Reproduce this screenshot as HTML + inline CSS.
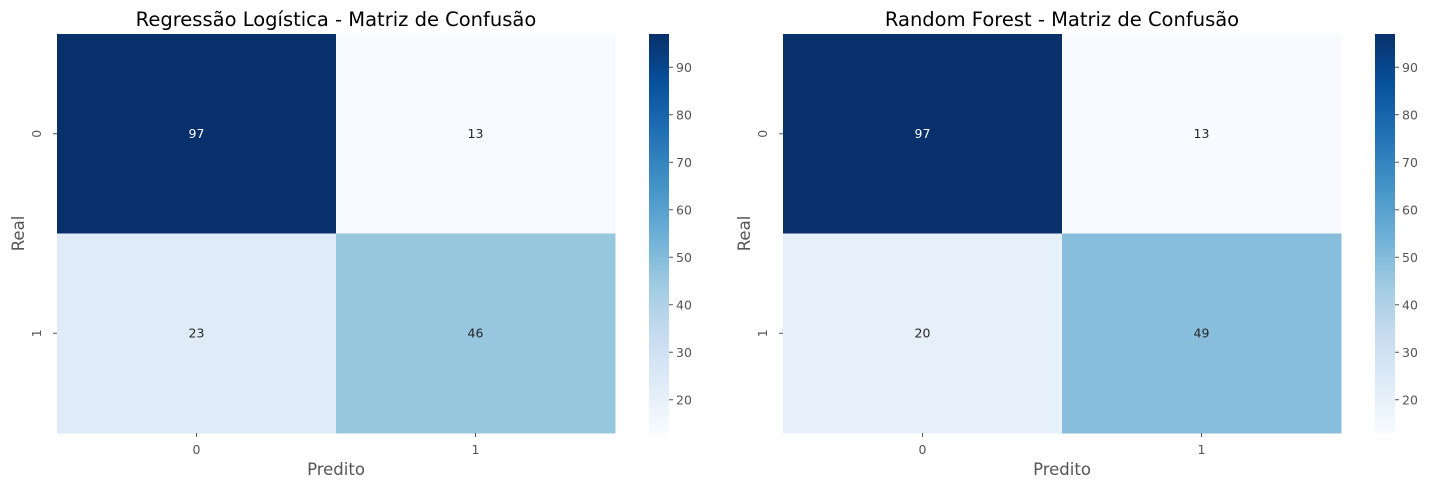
<!DOCTYPE html>
<html><head><meta charset="utf-8"><style>body{margin:0;background:#fff}svg{display:block;font-family:"DejaVu Sans","Liberation Sans",sans-serif}</style></head>
<body>
<svg id="chart" width="1432" height="490" xmlns="http://www.w3.org/2000/svg">
<defs><linearGradient id="blues" x1="0" y1="1" x2="0" y2="0">
<stop offset="0" stop-color="#f7fbff"/><stop offset="0.125" stop-color="#deebf7"/><stop offset="0.25" stop-color="#c6dbef"/><stop offset="0.375" stop-color="#9ecae1"/><stop offset="0.5" stop-color="#6baed6"/><stop offset="0.625" stop-color="#4292c6"/><stop offset="0.75" stop-color="#2171b5"/><stop offset="0.875" stop-color="#08519c"/><stop offset="1" stop-color="#08306b"/></linearGradient></defs>
</svg>
<script>
const titles = ["Regressão Logística - Matriz de Confusão", "Random Forest - Matriz de Confusão"];
const matLR = [[97, 13], [23, 46]];
const matRF = [[97, 13], [20, 49]];
const classLabels = ["0", "1"];
const cbarTicks = [20, 30, 40, 50, 60, 70, 80, 90];

const NS = "http://www.w3.org/2000/svg";
const svg = document.getElementById("chart");
const stops = ["#f7fbff","#deebf7","#c6dbef","#9ecae1","#6baed6","#4292c6","#2171b5","#08519c","#08306b"];
function hex(c){return [1,3,5].map(i=>parseInt(c.substr(i,2),16));}
function blues(t){t=Math.max(0,Math.min(1,t));const p=t*8,i=Math.min(7,Math.floor(p)),f=p-i;const a=hex(stops[i]),b=hex(stops[i+1]);return "rgb("+a.map((v,k)=>Math.round(v+(b[k]-v)*f)).join(",")+")";}
function el(tag, attrs, text){const e=document.createElementNS(NS,tag);for(const k in attrs)e.setAttribute(k,attrs[k]);if(text!==undefined)e.textContent=text;svg.appendChild(e);return e;}

function panel(mat, title, ox){
  const all=mat.flat(), vmin=Math.min(...all), vmax=Math.max(...all);
  const x0=57+ox, y0=34, W=558, H=399, cw=W/classLabels.length, ch=H/classLabels.length;
  const cx = i => x0 + cw*i, cy = j => y0 + ch*j;
  let t=el("text",{x:x0+W/2,y:26,"text-anchor":"middle","font-size":19.5,fill:"#000"},title);
  
  
  mat.forEach((row,j)=>row.forEach((v,i)=>{
    const tt=(v-vmin)/(vmax-vmin);
    const r=el("rect",{x:cx(i),y:cy(j),width:cw+0.5,height:ch+0.5,fill:blues(tt)});
    
    
    const l=el("text",{x:cx(i)+cw/2,y:cy(j)+ch/2+4,"text-anchor":"middle","font-size":12.5,fill:tt>0.5?"#fff":"#262626"},String(v));
    
    
  }));
  classLabels.forEach((c,i)=>{
    el("line",{x1:cx(i)+cw/2,x2:cx(i)+cw/2,y1:y0+H,y2:y0+H+4,stroke:"#555"});
    const a=el("text",{x:cx(i)+cw/2,y:y0+H+21,"text-anchor":"middle","font-size":12.5,fill:"#555"},c);
    
    
    const yy=cy(i)+ch/2;
    el("line",{x1:x0-4,x2:x0,y1:yy,y2:yy,stroke:"#555"});
    const b=el("text",{x:x0-16,y:yy,"text-anchor":"middle","font-size":12.5,fill:"#555",transform:`rotate(-90 ${x0-16} ${yy})`},c);
    
    
  });
  const xl=el("text",{x:x0+W/2,y:475,"text-anchor":"middle","font-size":16.5,fill:"#555"},"Predito");
  
  
  const yl=el("text",{x:24+ox,y:y0+H/2,"text-anchor":"middle","font-size":16.5,fill:"#555",transform:`rotate(-90 ${24+ox} ${y0+H/2})`},"Real");
  
  
  const bx=649+ox, bw=20;
  const cbY = v => y0 + H - (v-vmin)/(vmax-vmin)*H;
  const cb=el("rect",{x:bx,y:y0,width:bw,height:H,fill:"url(#blues)"});
  
  
  cbarTicks.forEach(v=>{
    const yy=cbY(v);
    el("line",{x1:bx+bw,x2:bx+bw+4,y1:yy,y2:yy,stroke:"#555"});
    const tl=el("text",{x:bx+bw+7,y:yy+4.5,"font-size":12.5,fill:"#555"},String(v));
    
    
  });
}
panel(matLR, titles[0], 0);
panel(matRF, titles[1], 726);
</script>
</body></html>
